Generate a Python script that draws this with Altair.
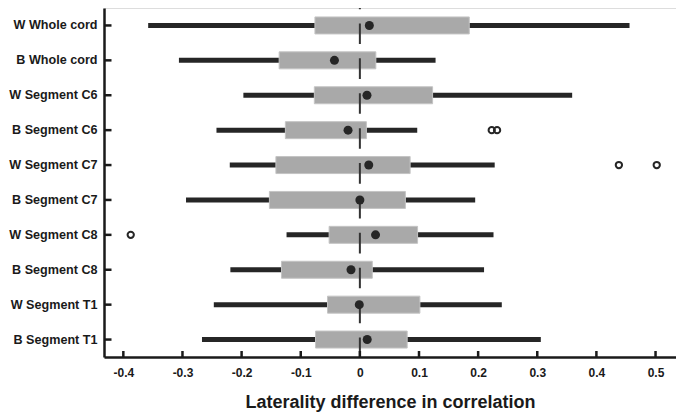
import altair as alt
import pandas as pd

categories = ["W Whole cord", "B Whole cord", "W Segment C6", "B Segment C6",
              "W Segment C7", "B Segment C7", "W Segment C8", "B Segment C8",
              "W Segment T1", "B Segment T1"]
whisker_low = [-0.358, -0.306, -0.197, -0.2425, -0.220, -0.294, -0.124, -0.219, -0.247, -0.267]
box_q1 = [-0.076, -0.1365, -0.077, -0.126, -0.142, -0.153, -0.052, -0.1325, -0.0547, -0.075]
box_q3 = [0.185, 0.027, 0.123, 0.011, 0.085, 0.077, 0.0976, 0.021, 0.1015, 0.080]
whisker_high = [0.456, 0.128, 0.359, 0.097, 0.228, 0.195, 0.226, 0.210, 0.240, 0.306]
center_dot = [0.016, -0.043, 0.012, -0.020, 0.015, 0.000, 0.0265, -0.015, -0.001, 0.0124]

outlier_cat = ["B Segment C6", "B Segment C6", "W Segment C7", "W Segment C7", "W Segment C8"]
outlier_val = [0.223, 0.232, 0.438, 0.502, -0.3875]

x_ticks = [-0.4, -0.3, -0.2, -0.1, 0, 0.1, 0.2, 0.3, 0.4, 0.5]
x_domain = [-0.4327, 0.5346]

W, H = 572, 349
FONT = "Liberation Sans"
DARK = "#262626"

df = pd.DataFrame({"cat": categories, "lo": whisker_low, "q1": box_q1,
                   "q3": box_q3, "hi": whisker_high, "mid": center_dot})
dfo = pd.DataFrame({"cat": outlier_cat, "v": outlier_val})
dft = pd.DataFrame({"t": x_ticks})
dfz = pd.DataFrame({"z": [0]})

xscale = alt.Scale(domain=x_domain, nice=False, zero=False)
yscale = alt.Scale(domain=categories, paddingInner=0, paddingOuter=0)

xaxis = alt.Axis(values=x_ticks, title="Laterality difference in correlation",
                 format="~g", ticks=False, tickSize=0, labelPadding=10, titlePadding=15,
                 labelExpr="replace(datum.label, '\u2212', '-')",
                 labelFont=FONT, labelFontSize=12, labelFontWeight="bold", labelColor="#1a1a1a",
                 titleFont=FONT, titleFontSize=18, titleFontWeight="bold", titleColor="#1a1a1a",
                 domainColor="#1a1a1a", domainWidth=2.5, grid=False, labelFlush=False)
yaxis = alt.Axis(title=None, ticks=False, tickSize=0, labelPadding=7,
                 labelFont=FONT, labelFontSize=12.6, labelFontWeight="bold", labelColor="#1a1a1a",
                 domainColor="#1a1a1a", domainWidth=2.5, grid=False)

base = alt.Chart(df)

whiskers = base.mark_rule(color=DARK, strokeWidth=5).encode(
    x=alt.X("lo:Q", scale=xscale, axis=xaxis),
    x2="hi:Q",
    y=alt.Y("cat:N", sort=categories, scale=yscale, axis=yaxis),
)

boxes = base.mark_bar(height=17, color="#a9a9a9", stroke="#c4c4c4", strokeWidth=1).encode(
    x=alt.X("q1:Q", scale=xscale),
    x2="q3:Q",
    y=alt.Y("cat:N", sort=categories, scale=yscale),
)

zero_line = alt.Chart(dfz).mark_rule(color="#333333", strokeWidth=2,
                                     strokeDash=[20.6, 14.3], strokeDashOffset=19.45).encode(
    x=alt.X("z:Q", scale=xscale),
    y=alt.value(0),
    y2=alt.value(H),
)

dots = base.mark_circle(size=81, color=DARK, opacity=1).encode(
    x=alt.X("mid:Q", scale=xscale),
    y=alt.Y("cat:N", sort=categories, scale=yscale),
)

outliers = alt.Chart(dfo).mark_point(shape="circle", filled=False, size=40,
                                     stroke=DARK, strokeWidth=2, opacity=1).encode(
    x=alt.X("v:Q", scale=xscale),
    y=alt.Y("cat:N", sort=categories, scale=yscale),
)

ytick_marks = alt.Chart(pd.DataFrame({"cat": categories})).mark_rule(
    color="#1a1a1a", strokeWidth=2.5).encode(
    y=alt.Y("cat:N", sort=categories, scale=yscale),
    x=alt.value(0),
    x2=alt.value(7.5),
)

xtick_marks = alt.Chart(dft).mark_rule(color="#1a1a1a", strokeWidth=2.5).encode(
    x=alt.X("t:Q", scale=xscale),
    y=alt.value(H),
    y2=alt.value(H - 6),
)

chart = alt.layer(whiskers, boxes, zero_line, dots, outliers, ytick_marks, xtick_marks).properties(
    width=W, height=H,
    autosize=alt.AutoSizeParams(type="none"),
    padding={"left": 96, "top": 0, "right": 0, "bottom": 57},
).configure_view(stroke=None).configure(background="white")

chart.save("out.html", embed_options={"renderer": "svg", "actions": False})
